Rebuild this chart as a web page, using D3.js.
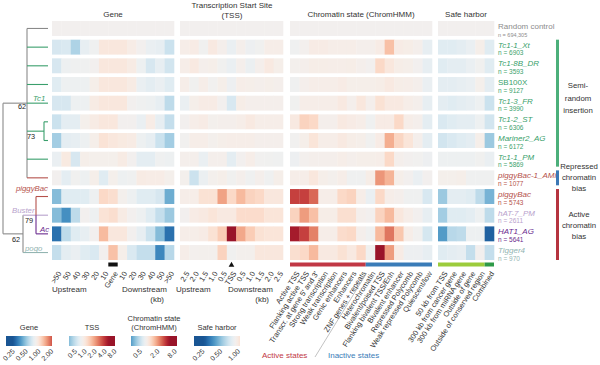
<!DOCTYPE html>
<html><head><meta charset="utf-8">
<script src="https://cdn.jsdelivr.net/npm/d3@7"></script>
<style>body{margin:0;background:#fff} svg{display:block;font-family:"Liberation Sans",Arial,sans-serif}</style>
</head><body><svg id="c" width="600" height="365"></svg>
<script>
// ---------------- DATA ----------------
const rows = ["Random control","Tc1-1_Xt","Tc1-8B_DR","SB100X","Tc1-3_FR","Tc1-2_ST","Mariner2_AG","Tc1-1_PM","piggyBac-1_AMi","piggyBac","hAT-7_PM","HAT1_AG","Tigger4"];
const counts = ["n = 694,305","n = 6903","n = 3593","n = 9127","n = 3990","n = 6306","n = 6172","n = 5869","n = 1077","n = 5743","n = 2611","n = 5641","n = 970"];
const rowGroup = ["ctrl","tc1","tc1","tc1","tc1","tc1","tc1","tc1","pb","pb","buster","ac","pogo"];
const geneCols = [">50","50","40","30","20","10","Gene","10 ","20 ","30 ","40 ","50 ",">50 "];
const tssCols = ["2.5","2.0","1.5","1.0","0.5","TSS","0.5 ","1.0 ","1.5 ","2.0 ","2.5 "];
const chromCols = ["Active TSS","Flanking active TSS","Transcr. at gene 5' and 3'","Strong transcription","Weak transcription","Genic enhancers","Enhancers","ZNF genes + repeats","Heterochromatin","Bivalent/poised TSS","Flanking bivalent TSS/Enh","Bivalent enhancer","Repressed Polycomb","Weak repressed Polycomb","Quiescent/low"];
const safeCols = ["50 kb from TSS","300 kb from cancer gene","300 kb from miRNA gene","Outside of gene","Outside of conserved region","Combined"];

const geneVals = [
 [1,1,1,1,1,1,1,1,1,1,1,1,1],
 [0.8,0.82,0.65,0.9,0.97,1.15,1.15,1.15,1.08,1.0,0.92,0.9,0.75],
 [0.8,0.95,0.97,0.97,1.0,1.15,1.15,1.15,1.1,0.95,0.8,0.9,0.78],
 [0.85,0.95,0.95,0.95,1.05,1.15,1.15,1.15,1.1,0.92,0.88,0.92,0.85],
 [0.8,0.8,0.95,0.95,1.1,1.15,1.15,1.15,1.0,0.97,0.95,0.9,0.7],
 [0.75,0.88,0.88,1.03,1.1,1.15,1.15,1.0,1.0,0.92,1.08,0.9,0.72],
 [0.62,0.88,0.9,0.95,1.05,1.2,1.15,1.12,1.1,0.95,0.9,0.75,0.62],
 [0.92,1.12,0.8,1.05,1.03,1.03,1.03,1.1,1.0,0.88,0.88,0.97,0.95],
 [1.0,0.88,0.98,0.95,1.05,0.85,1.03,0.95,0.97,1.1,1.08,1.08,1.03],
 [0.55,0.85,0.85,0.85,0.95,1.3,1.25,1.02,0.95,0.85,0.85,0.8,0.5],
 [0.55,0.42,0.7,1.0,0.95,1.2,1.25,1.1,1.0,0.95,0.85,0.72,0.6],
 [0.35,0.7,0.85,0.9,1.0,1.55,1.15,1.15,1.0,0.9,0.75,0.55,0.35],
 [0.72,0.88,0.92,0.85,0.82,1.0,1.5,1.05,0.82,0.72,0.72,0.4,0.68]
];
const tssVals = [
 [1,1,1,1,1,1,1,1,1,1,1],
 [1.1,1.15,0.97,1.2,1.05,0.88,1.05,0.92,0.97,1.1,1.1],
 [1.1,1.2,1.05,1.08,0.97,0.88,1.05,0.9,1.05,1.2,1.08],
 [1.1,0.97,1.1,0.98,1.08,0.92,1.1,1.08,1.05,1.08,1.05],
 [0.88,1.08,1.15,1.15,1.0,0.72,1.12,1.05,1.05,1.05,1.05],
 [1.0,1.1,1.15,1.03,1.05,1.05,1.1,1.2,1.1,1.1,1.1],
 [0.98,1.1,1.1,1.03,1.08,1.1,1.1,1.1,1.05,1.05,1.05],
 [1.05,1.05,0.88,1.05,1.05,0.82,1.0,1.1,0.98,0.97,0.95],
 [1.03,0.65,0.9,1.03,1.08,0.97,1.05,0.95,1.05,0.95,1.08],
 [1.1,1.1,1.35,1.35,2.4,1.5,2.0,1.6,1.5,1.25,1.25],
 [1.0,1.15,1.2,1.3,1.2,1.2,1.45,1.45,1.45,1.3,1.3],
 [1.1,1.1,1.15,1.35,1.7,7.0,2.3,1.7,1.35,1.3,1.3],
 [1.1,1.02,1.03,1.03,1.6,0.97,1.03,1.03,1.25,1.25,1.25]
];
const chromVals = [
 [1,1,1,1,1,1,1,1,1,1,1,1,1,1,1],
 [0.95,1.02,1.15,1.15,1.1,1.1,1.1,1.05,1.05,1.15,1.9,1.15,1.12,1.05,0.85],
 [1.03,1.05,1.12,1.12,1.1,1.1,1.12,1.05,1.0,1.5,1.25,1.12,1.08,1.0,0.85],
 [0.95,1.05,1.1,1.1,1.1,1.15,1.08,1.08,1.08,1.12,1.2,1.12,1.1,1.05,0.88],
 [0.97,1.1,1.1,1.1,1.1,1.2,1.05,1.25,1.05,1.35,1.2,1.2,1.1,1.05,0.85],
 [1.2,1.6,1.5,1.05,1.05,1.2,1.15,1.1,0.95,1.15,1.15,1.5,1.1,1.05,0.82],
 [0.98,1.08,1.3,1.1,1.1,1.2,1.12,1.08,0.97,1.15,2.2,1.55,1.3,1.05,0.82],
 [0.92,1.02,1.05,1.05,1.05,1.1,1.05,1.08,1.08,1.1,1.5,1.05,1.0,0.98,0.92],
 [1.1,1.1,1.25,1.08,1.03,1.1,0.95,0.95,1.12,2.6,2.1,1.08,1.0,0.88,1.0],
 [4.5,4.5,3.5,1.1,1.1,1.5,1.6,1.1,0.88,1.5,1.1,1.05,0.95,0.95,0.72],
 [1.6,2.5,1.9,1.12,1.12,1.4,1.4,1.05,1.0,1.6,2.0,1.25,1.1,1.0,0.85],
 [6.0,4.5,3.0,1.1,1.1,1.45,1.5,1.05,0.95,2.0,3.2,1.8,1.1,0.98,0.7],
 [1.4,1.5,2.0,1.2,1.2,1.35,1.2,1.5,0.97,7.5,2.5,1.15,0.92,0.92,0.85]
];
const safeVals = [
 [1,1,1,1,1,1],
 [0.85,0.85,0.88,0.92,1.05,0.85],
 [0.85,0.88,0.88,0.92,0.98,0.85],
 [0.88,0.88,0.9,0.92,1.03,0.88],
 [0.88,0.85,0.88,0.9,0.95,0.75],
 [0.82,0.85,0.88,0.88,0.95,0.78],
 [0.78,0.82,0.85,0.88,1.05,0.6],
 [0.95,0.95,0.95,0.95,0.98,0.92],
 [1.03,1.03,1.05,0.97,0.97,0.97],
 [0.6,0.88,0.88,0.85,0.7,0.52],
 [0.62,0.85,0.85,0.88,0.95,0.7],
 [0.45,0.68,0.7,0.95,0.95,0.32],
 [0.85,0.88,0.9,0.72,1.0,0.72]
];
const geneTicks = [0.25,0.5,1,2];
const tssTicks = [0.5,1,2,4,8];
const chromTicks = [0.5,2,8];
const safeTicks = [0.25,0.5,1];

// ---------------- COLOURS ----------------
const interp = t => d3.interpolateRdBu(0.93 - 0.86*t);
const cGene = d3.scaleDivergingLog(interp).domain([0.3,1,3.3]).clamp(true);
const cTss = d3.scaleDivergingLog(interp).domain([0.16,1,6.5]).clamp(true);
const cChrom = d3.scaleDivergingLog(interp).domain([0.16,1,6.5]).clamp(true);
const cSafe = d3.scaleDivergingLog(interp).domain([0.3,1,3.3]).clamp(true);
const grpColor = {ctrl:"#8c8c8c", tc1:"#3a9f6c", pb:"#b5514b", buster:"#b8a2cc", ac:"#6a2a8e", pogo:"#93b5b2"};

const svg = d3.select("#c");
const FONT = 8;

const y = d3.scaleBand().domain(rows).range([21,260]).paddingInner(0.2);
const panels = [
  {cols:geneCols, vals:geneVals, range:[52,174], color:cGene, title:["Gene"], tx:113},
  {cols:tssCols, vals:tssVals, range:[180,283], color:cTss, title:["Transcription Start Site","(TSS)"], tx:232},
  {cols:chromCols, vals:chromVals, range:[290,432], color:cChrom, title:["Chromatin state (ChromHMM)"], tx:361},
  {cols:safeCols, vals:safeVals, range:[438,494], color:cSafe, title:["Safe harbor"], tx:466}
];

panels.forEach(p => {
  const x = d3.scaleBand().domain(p.cols).range(p.range);
  p.x = x;
  const g = svg.append("g");
  rows.forEach((r,i) => {
    g.selectAll(null).data(p.vals[i]).join("rect")
      .attr("x",(d,j)=>x(p.cols[j])).attr("y",y(r))
      .attr("width",x.bandwidth()+0.3).attr("height",y.bandwidth())
      .attr("fill",d=>p.color(d));
  });
  const t = svg.append("text").attr("x",p.tx).attr("text-anchor","middle")
    .attr("font-size",FONT).attr("fill","#333");
  if (p.title.length===2){
    t.append("tspan").attr("x",p.tx).attr("y",8).text(p.title[0]);
    t.append("tspan").attr("x",p.tx).attr("y",18).text(p.title[1]);
  } else t.attr("y",17).text(p.title[0]);
  const ax = svg.append("g").attr("transform",`translate(0,266)`)
    .call(d3.axisBottom(x).tickSize(0).tickFormat(d=>d.trim()));
  ax.select(".domain").remove();
  ax.selectAll("text").attr("font-size",7.5).attr("fill","#333")
    .attr("font-family","Liberation Sans, Arial, sans-serif")
    .attr("text-anchor","end").attr("dy","0.35em")
    .attr("transform","translate(3,6) rotate(-57)").attr("x",0).attr("y",0);
});

const gx = panels[0].x, tx = panels[1].x, cx = panels[2].x, sx = panels[3].x;
svg.append("rect").attr("x",gx("Gene")).attr("y",262.5).attr("width",gx.bandwidth()).attr("height",4).attr("fill","#111");
svg.append("path").attr("d",d3.symbol(d3.symbolTriangle,14)()).attr("fill","#111")
  .attr("transform",`translate(${tx("TSS")+tx.bandwidth()/2},265)`);
svg.append("rect").attr("x",cx(chromCols[0])).attr("y",262.5).attr("width",cx.bandwidth()*8).attr("height",4).attr("fill","#c13845");
svg.append("rect").attr("x",cx(chromCols[8])).attr("y",262.5).attr("width",cx.bandwidth()*7).attr("height",4).attr("fill","#3a7cb8");
svg.append("rect").attr("x",sx(safeCols[0])).attr("y",262.5).attr("width",sx.bandwidth()*5).attr("height",4).attr("fill","#9ccc3c");
svg.append("rect").attr("x",sx(safeCols[5])).attr("y",262.5).attr("width",sx.bandwidth()).attr("height",4).attr("fill","#2e9a48");

const lab = (x,yy,t,anchor="start",col="#333",fs=FONT)=>svg.append("text").attr("x",x).attr("y",yy).attr("font-size",fs).attr("fill",col).attr("text-anchor",anchor).text(t);
lab(52,292,"Upstream"); lab(122,292,"Downstream"); lab(164,302,"(kb)","end");
lab(176,292,"Upstream"); lab(228,292,"Downstream"); lab(269,302,"(kb)","end");
lab(262,358,"Active states","start","#c13845");
lab(328,358,"Inactive states","start","#3a7cb8");
svg.append("line").attr("x1",315).attr("y1",357).attr("x2",cx(chromCols[8])+1).attr("y2",273).attr("stroke","#999").attr("stroke-width",0.6);

rows.forEach((r,i)=>{
  const g = rowGroup[i], col = grpColor[g];
  const t0 = y(r);
  lab(498,t0+8,r,"start",col,8).attr("font-style",(i===0||r==="SB100X")?"normal":"italic");
  lab(498,t0+15.5,counts[i],"start",col,i===0?5.5:6.5);
});

const barG = [[1,7,"#4caf7a"],[8,8,"#3b78b5"],[9,12,"#b5343f"]];
barG.forEach(([a,b,c])=>{
  svg.append("rect").attr("x",556).attr("y",y(rows[a])).attr("width",3)
    .attr("height",y(rows[b])+y.bandwidth()-y(rows[a])).attr("fill",c);
});
const ml = (x,ys,lines)=>lines.forEach((l,k)=>lab(x,ys[k],l,"middle","#333",7.8));
ml(578,[88,100.5,113],["Semi-","random","insertion"]);
ml(579,[169,180,191],["Repressed","chromatin","bias"]);
ml(579,[217,228,239],["Active","chromatin","bias"]);

const cy = i => y(rows[i]) + y.bandwidth()/2;
const seg = (x1,y1,x2,y2,c)=>svg.append("line").attr("x1",x1).attr("y1",y1).attr("x2",x2).attr("y2",y2).attr("stroke",c).attr("stroke-width",1.1);
const GR="#8a8a8a", GN=grpColor.tc1, PB=grpColor.pb;
seg(27,cy(0),27,cy(8),GR);
seg(27,cy(0),48,cy(0),GR);
[1,2,3,4,7].forEach(i=>seg(27,cy(i),48,cy(i),GN));
const m73=(cy(5)+cy(6))/2;
seg(27,m73,44,m73,GN); seg(44,cy(5),44,cy(6),GN); seg(44,cy(5),48,cy(5),GN); seg(44,cy(6),48,cy(6),GN);
seg(27,cy(8),48,cy(8),PB);
seg(3,cy(4),27,cy(4),GR);
const lowY=(cy(10)+cy(12))/2;
seg(3,cy(4),3,lowY,GR);
seg(3,lowY,23,lowY,GR);
seg(23,cy(10),23,cy(12),GR);
seg(23,cy(10),48,cy(10),grpColor.buster);
seg(36,cy(9),36,cy(10),PB); seg(36,cy(10),36,cy(11),grpColor.ac);
seg(36,cy(9),48,cy(9),PB);
seg(36,cy(11),48,cy(11),grpColor.ac);
seg(23,cy(12),48,cy(12),grpColor.pogo);
lab(33,cy(4)-2.5,"Tc1","start",GN,7.8).attr("font-style","italic");
lab(48,191,"piggyBac","end",PB,7.8).attr("font-style","italic");
lab(12,cy(10)-2,"Buster","start",grpColor.buster,7.8).attr("font-style","italic");
lab(40,cy(11)-2,"Ac","start",grpColor.ac,7.8).attr("font-style","italic");
lab(25,cy(12)-2,"pogo","start",grpColor.pogo,7.8).attr("font-style","italic");
lab(18,cy(4)+6,"62","start","#222",7.3);
lab(27,139,"73","start","#222",7.3);
lab(25,cy(10)+8,"79","start","#222",7.3);
lab(12,lowY+8,"62","start","#222",7.3);

function legend(x0,title,scale,lo,hi,ticks,fmt){
  const W=46, g=svg.append("g");
  const ls = d3.scaleLog().domain([lo,hi]).range([x0,x0+W]);
  const id="gr"+Math.round(x0);
  const grad = svg.append("defs").append("linearGradient").attr("id",id);
  d3.range(0,1.0001,0.05).forEach(t=>{
    grad.append("stop").attr("offset",t).attr("stop-color",scale(ls.invert(x0+t*W)));
  });
  g.append("rect").attr("x",x0).attr("y",336).attr("width",W).attr("height",10).attr("fill",`url(#${id})`);
  if (title.length===2){
    lab(x0+W/2,321,title[0],"middle","#333",7.5); lab(x0+W/2,330,title[1],"middle","#333",7.5);
  } else lab(x0+W/2,330,title[0],"middle","#333",7.5);
  const ax = g.append("g").attr("transform","translate(0,346)")
    .call(d3.axisBottom(ls).tickValues(ticks).tickSize(0).tickFormat(fmt));
  ax.select(".domain").remove();
  ax.selectAll("text").attr("font-size",7).attr("fill","#333").attr("font-family","Liberation Sans, Arial, sans-serif")
    .attr("text-anchor","end").attr("dy","0.35em").attr("x",0).attr("y",0)
    .attr("transform","translate(3,4) rotate(-45)");
}
legend(6,["Gene"],cGene,0.2,2.4,geneTicks,d3.format(".2f"));
legend(69,["TSS"],cTss,0.4,10,tssTicks,d3.format(".1f"));
legend(131,["Chromatin state","(ChromHMM)"],cChrom,0.3,12,chromTicks,d3.format(".1f"));
legend(194,["Safe harbor"],cSafe,0.2,1.2,safeTicks,d3.format(".2f"));
</script></body></html>
